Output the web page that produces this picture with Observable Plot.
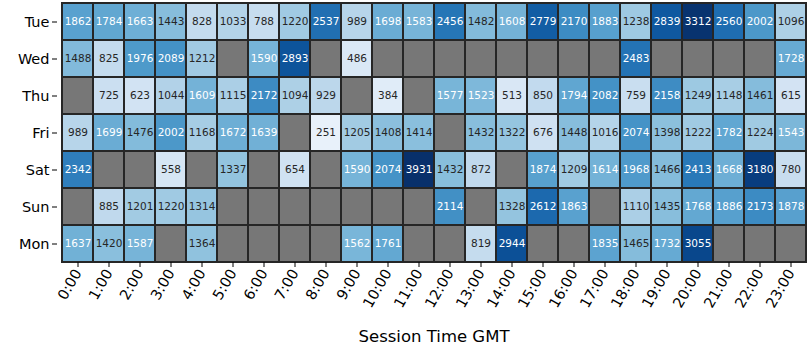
<!DOCTYPE html>
<html>
<head>
<meta charset="utf-8">
<script src="https://cdn.jsdelivr.net/npm/d3@7"></script>
<script src="https://cdn.jsdelivr.net/npm/@observablehq/plot@0.6"></script>
<style>
  html, body { margin: 0; padding: 0; background: white; }
</style>
</head>
<body>
<div id="chart"></div>
<script>
const hours = ["0:00","1:00","2:00","3:00","4:00","5:00","6:00","7:00","8:00","9:00","10:00","11:00","12:00","13:00","14:00","15:00","16:00","17:00","18:00","19:00","20:00","21:00","22:00","23:00"];
const days = ["Tue","Wed","Thu","Fri","Sat","Sun","Mon"];

const tue = [1862,1784,1663,1443,828,1033,788,1220,2537,989,1698,1583,2456,1482,1608,2779,2170,1883,1238,2839,3312,2560,2002,1096];
const wed = [1488,825,1976,2089,1212,null,1590,2893,null,486,null,null,null,null,null,null,null,null,2483,null,null,null,null,1728];
const thu = [null,725,623,1044,1609,1115,2172,1094,929,null,384,null,1577,1523,513,850,1794,2082,759,2158,1249,1148,1461,615];
const fri = [989,1699,1476,2002,1168,1672,1639,null,251,1205,1408,1414,null,1432,1322,676,1448,1016,2074,1398,1222,1782,1224,1543];
const sat = [2342,null,null,558,null,1337,null,654,null,1590,2074,3931,1432,872,null,1874,1209,1614,1968,1466,2413,1668,3180,780];
const sun = [null,885,1201,1220,1314,null,null,null,null,null,null,null,2114,null,1328,2612,1863,null,1110,1435,1768,1886,2173,1878];
const mon = [1637,1420,1587,null,1364,null,null,null,null,1562,1761,null,null,819,2944,null,null,1835,1465,1732,3055,null,null,null];

const rows = [tue, wed, thu, fri, sat, sun, mon];
const all = [];
days.forEach((d, i) => hours.forEach((h, j) => all.push({day: d, hour: h, v: rows[i][j]})));
const vals = all.filter(d => d.v != null);

const chart = Plot.plot({
  width: 810,
  height: 360,
  marginLeft: 57,
  marginRight: 0,
  marginTop: 2,
  marginBottom: 98,
  style: {fontFamily: "DejaVu Sans", background: "white", color: "#000"},
  x: {type: "band", domain: hours, padding: 0, label: null},
  y: {type: "band", domain: days, padding: 0, label: null},
  color: {type: "linear", scheme: "blues", domain: [0, 3350], clamp: true},
  marks: [
    Plot.cell(all, {x: "hour", y: "day", fill: "#777777", stroke: "#262626", strokeWidth: 2}),
    Plot.cell(vals, {x: "hour", y: "day", fill: "v", stroke: "#262626", strokeWidth: 2}),
    Plot.text(vals, {x: "hour", y: "day", text: d => String(d.v), fill: d => d.v >= 1500 ? "white" : "#262626", fontSize: 10.5}),
    Plot.axisY({tickSize: 5, tickPadding: 3, fontSize: 14.5, label: null}),
    Plot.axisX({tickRotate: -60, tickSize: 5, tickPadding: 3, fontSize: 14.5, label: null}),
    Plot.text(["Session Time GMT"], {text: d => d, frameAnchor: "bottom", dy: 79, fontSize: 16.5, fill: "#000"})
  ]
});
document.getElementById("chart").appendChild(chart);
</script>
</body>
</html>
